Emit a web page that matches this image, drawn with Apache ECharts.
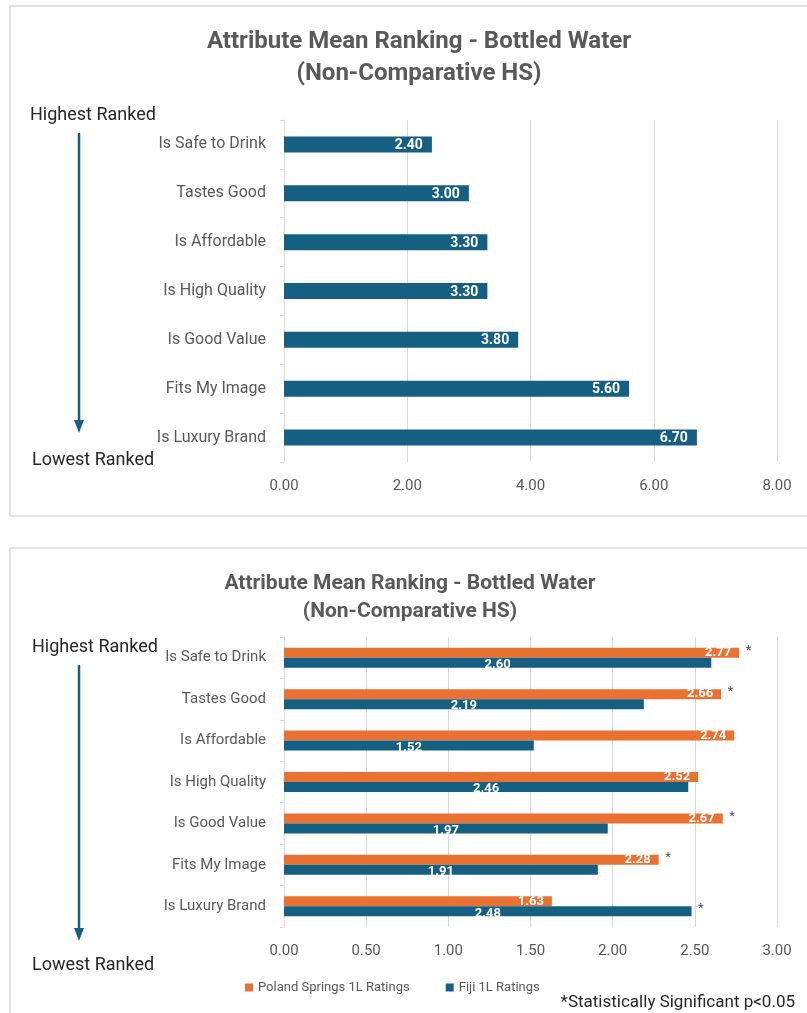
<!DOCTYPE html>
<html>
<head>
<meta charset="utf-8">
<script src="https://cdn.jsdelivr.net/npm/echarts@6/dist/echarts.min.js"></script>
<style>
html,body{margin:0;padding:0;background:#fff;}
#c{width:807px;height:1013px;}
</style>
</head>
<body>
<div id="c"></div>
<script>
// ---------- data ----------
const categories = ['Is Safe to Drink','Tastes Good','Is Affordable','Is High Quality','Is Good Value','Fits My Image','Is Luxury Brand'];
const meanRanking = [2.40, 3.00, 3.30, 3.30, 3.80, 5.60, 6.70];
const polandRatings = [2.77, 2.66, 2.74, 2.52, 2.67, 2.28, 1.63];
const fijiRatings = [2.60, 2.19, 1.52, 2.46, 1.97, 1.91, 2.48];
const polandSignificant = [1, 1, 0, 0, 1, 1, 0];
const fijiSignificant = [0, 0, 0, 0, 0, 0, 1];
const topTicks = [0, 2, 4, 6, 8];
const bottomTicks = [0, 0.5, 1, 1.5, 2, 2.5, 3];
const titleText = 'Attribute Mean Ranking - Bottled Water\n(Non-Comparative HS)';
const seriesNames = ['Poland Springs 1L Ratings', 'Fiji 1L Ratings'];
const footnote = '*Statistically Significant p<0.05';

// ---------- styles ----------
const BLUE = '#156082', ORANGE = '#E97132', GREY = '#595959', DARK = '#262626', GRID = '#d9d9d9';
const FONT = 'Roboto, "Liberation Sans", sans-serif';

const chart = echarts.init(document.getElementById('c'), null, {renderer: 'canvas'});

function sigData(vals, flags) {
  const out = [];
  vals.forEach((v, i) => { if (flags[i]) out.push([v, categories[i]]); });
  return out;
}

const xLabel = {color: GREY, fontSize: 15, fontFamily: FONT, margin: 17, formatter: v => v.toFixed(2)};
const yLabel = {color: GREY, fontSize: 16, fontFamily: FONT, margin: 18};

const option = {
  animation: false,
  backgroundColor: '#fff',
  title: [
    {text: titleText, left: 414, top: 21, textAlign: 'center',
     textStyle: {fontFamily: FONT, fontWeight: 'bold', fontSize: 24, color: GREY, lineHeight: 32}},
    {text: titleText, left: 405, top: 565, textAlign: 'center',
     textStyle: {fontFamily: FONT, fontWeight: 'bold', fontSize: 21, color: GREY, lineHeight: 28}}
  ],
  legend: {
    data: seriesNames, left: 240, top: 976, itemWidth: 8, itemHeight: 8, icon: 'rect', itemGap: 36,
    textStyle: {color: GREY, fontSize: 13, fontFamily: FONT}
  },
  grid: [
    {left: 284, width: 493, top: 120, height: 342},
    {left: 284, width: 493, top: 637, height: 290}
  ],
  xAxis: [
    {gridIndex: 0, type: 'value', min: topTicks[0], max: topTicks[topTicks.length-1], interval: 2,
     axisLine: {show: false}, axisTick: {show: false}, axisLabel: xLabel,
     splitLine: {lineStyle: {color: GRID, width: 1}}},
    {gridIndex: 1, type: 'value', min: bottomTicks[0], max: bottomTicks[bottomTicks.length-1], interval: 0.5,
     axisLine: {show: false}, axisTick: {show: false}, axisLabel: Object.assign({}, xLabel, {margin: 17}),
     splitLine: {lineStyle: {color: GRID, width: 1}}}
  ],
  yAxis: [
    {gridIndex: 0, type: 'category', data: categories, inverse: true,
     axisLine: {lineStyle: {color: GRID}}, axisTick: {show: true, length: 4, lineStyle: {color: GRID}},
     axisLabel: yLabel},
    {gridIndex: 1, type: 'category', data: categories, inverse: true,
     axisLine: {lineStyle: {color: GRID}}, axisTick: {show: true, length: 4, lineStyle: {color: GRID}},
     axisLabel: Object.assign({}, yLabel, {fontSize: 15})}
  ],
  series: [
    {type: 'bar', xAxisIndex: 0, yAxisIndex: 0, data: meanRanking, barWidth: 16,
     itemStyle: {color: BLUE},
     label: {show: true, position: 'insideRight', distance: 9, color: '#fff', fontWeight: 'bold',
             fontSize: 14, fontFamily: FONT, offset: [0, 1], formatter: p => p.value.toFixed(2)}},
    {name: seriesNames[0], type: 'bar', xAxisIndex: 1, yAxisIndex: 1, data: polandRatings,
     barWidth: 10, barGap: '0%', itemStyle: {color: ORANGE},
     label: {show: true, position: 'insideRight', distance: 8, color: '#fff', fontWeight: 'bold',
             fontSize: 13, fontFamily: FONT, formatter: p => p.value.toFixed(2)}},
    {name: seriesNames[1], type: 'bar', xAxisIndex: 1, yAxisIndex: 1, data: fijiRatings,
     barWidth: 10, barGap: '0%', itemStyle: {color: BLUE},
     label: {show: true, position: 'inside', color: '#fff', fontWeight: 'bold', offset: [0, 2],
             fontSize: 13, fontFamily: FONT, formatter: p => p.value.toFixed(2)}},
    {type: 'scatter', xAxisIndex: 1, yAxisIndex: 1, data: sigData(polandRatings, polandSignificant),
     symbolSize: 1, itemStyle: {color: 'rgba(0,0,0,0)'}, silent: true,
     label: {show: true, position: 'right', distance: 6, offset: [0, -7], formatter: '*',
             color: DARK, fontSize: 13, fontFamily: FONT}},
    {type: 'scatter', xAxisIndex: 1, yAxisIndex: 1, data: sigData(fijiRatings, fijiSignificant),
     symbolSize: 1, itemStyle: {color: 'rgba(0,0,0,0)'}, silent: true,
     label: {show: true, position: 'right', distance: 6, offset: [0, 2], formatter: '*',
             color: DARK, fontSize: 13, fontFamily: FONT}}
  ],
  graphic: [
    {type: 'rect', z: -10, shape: {x: 10, y: 6, width: 820, height: 510},
     style: {fill: '#fff', stroke: '#d9d9d9', lineWidth: 1.5}},
    {type: 'rect', z: -10, shape: {x: 10, y: 548, width: 820, height: 480},
     style: {fill: '#fff', stroke: '#d9d9d9', lineWidth: 1.5}},
    {type: 'text', left: 30, top: 106, style: {text: 'Highest Ranked', fill: DARK, fontSize: 18, fontFamily: FONT}},
    {type: 'text', left: 32, top: 451, style: {text: 'Lowest Ranked', fill: DARK, fontSize: 18, fontFamily: FONT}},
    {type: 'line', shape: {x1: 79, y1: 133, x2: 79, y2: 422}, style: {stroke: BLUE, lineWidth: 2.5}},
    {type: 'polygon', shape: {points: [[74, 420], [84, 420], [79, 433]]}, style: {fill: BLUE}},
    {type: 'text', left: 32, top: 638, style: {text: 'Highest Ranked', fill: DARK, fontSize: 18, fontFamily: FONT}},
    {type: 'text', left: 32, top: 956, style: {text: 'Lowest Ranked', fill: DARK, fontSize: 18, fontFamily: FONT}},
    {type: 'line', shape: {x1: 79, y1: 665, x2: 79, y2: 930}, style: {stroke: BLUE, lineWidth: 2.5}},
    {type: 'polygon', shape: {points: [[74, 928], [84, 928], [79, 941]]}, style: {fill: BLUE}},
    {type: 'text', right: 12, top: 994, style: {text: footnote, fill: DARK, fontSize: 17, fontFamily: FONT}}
  ]
};
chart.setOption(option);
</script>
</body>
</html>
